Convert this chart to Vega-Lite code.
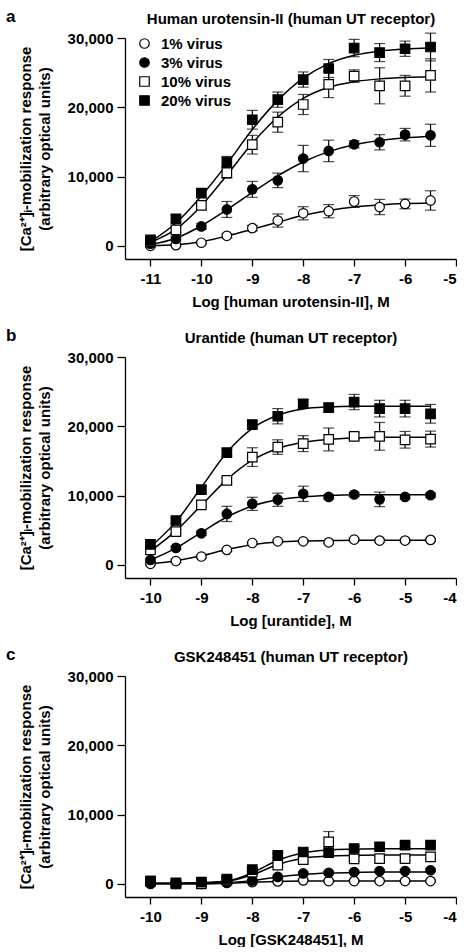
{
"$schema": "https://vega.github.io/schema/vega-lite/v6.json",
"padding": {"left": 6, "top": 8, "right": 0, "bottom": 0},
"spacing": 18,
"config": {
  "font": "Liberation Sans",
  "view": {"stroke": null},
  "axis": {"labelFont": "Liberation Sans", "labelFontSize": 15, "labelFontWeight": "bold", "labelColor": "black", "titleFont": "Liberation Sans", "titleFontSize": 15, "titleFontWeight": "bold", "titleColor": "black", "domainColor": "black", "domainWidth": 1.3, "tickColor": "black", "tickWidth": 1.3, "tickSize": 7, "grid": false},
  "legend": {"title": null, "labelFont": "Liberation Sans", "labelFontSize": 15, "labelFontWeight": "bold", "labelColor": "black", "rowPadding": 3, "labelOffset": 9, "symbolStrokeColor": "black", "symbolStrokeWidth": 1.2, "padding": 0},
  "title": {"font": "Liberation Sans", "fontSize": 17, "fontWeight": "bold", "color": "black"}
},
"datasets": {
"a": [
{"s":"1% virus","x":-11,"y":0,"e":150,"f":0},
{"s":"1% virus","x":-10.5,"y":100,"e":150,"f":150},
{"s":"1% virus","x":-10,"y":450,"e":200,"f":600},
{"s":"1% virus","x":-9.5,"y":1450,"e":300,"f":1400},
{"s":"1% virus","x":-9,"y":2550,"e":400,"f":2400},
{"s":"1% virus","x":-8.5,"y":3650,"e":950,"f":3400},
{"s":"1% virus","x":-8,"y":4700,"e":950,"f":4400},
{"s":"1% virus","x":-7.5,"y":5000,"e":950,"f":5100},
{"s":"1% virus","x":-7,"y":6400,"e":850,"f":5600},
{"s":"1% virus","x":-6.5,"y":5600,"e":1100,"f":5900},
{"s":"1% virus","x":-6,"y":6050,"e":700,"f":6100},
{"s":"1% virus","x":-5.5,"y":6550,"e":1400,"f":6200},
{"s":"3% virus","x":-11,"y":300,"e":200,"f":200},
{"s":"3% virus","x":-10.5,"y":1000,"e":300,"f":1100},
{"s":"3% virus","x":-10,"y":2800,"e":400,"f":2900},
{"s":"3% virus","x":-9.5,"y":5250,"e":1150,"f":5200},
{"s":"3% virus","x":-9,"y":8150,"e":1150,"f":7700},
{"s":"3% virus","x":-8.5,"y":9450,"e":1050,"f":10100},
{"s":"3% virus","x":-8,"y":12600,"e":1900,"f":12100},
{"s":"3% virus","x":-7.5,"y":13700,"e":1550,"f":13600},
{"s":"3% virus","x":-7,"y":14650,"e":500,"f":14600},
{"s":"3% virus","x":-6.5,"y":14950,"e":1100,"f":15200},
{"s":"3% virus","x":-6,"y":16050,"e":900,"f":15600},
{"s":"3% virus","x":-5.5,"y":15950,"e":1600,"f":15800},
{"s":"10% virus","x":-11,"y":700,"e":300,"f":500},
{"s":"10% virus","x":-10.5,"y":2300,"e":400,"f":2400},
{"s":"10% virus","x":-10,"y":5850,"e":500,"f":5800},
{"s":"10% virus","x":-9.5,"y":10550,"e":800,"f":10200},
{"s":"10% virus","x":-9,"y":14600,"e":1350,"f":14800},
{"s":"10% virus","x":-8.5,"y":17850,"e":1450,"f":18600},
{"s":"10% virus","x":-8,"y":20400,"e":1450,"f":21300},
{"s":"10% virus","x":-7.5,"y":23300,"e":1900,"f":22900},
{"s":"10% virus","x":-7,"y":24500,"e":900,"f":23700},
{"s":"10% virus","x":-6.5,"y":23100,"e":2600,"f":24100},
{"s":"10% virus","x":-6,"y":23100,"e":1500,"f":24300},
{"s":"10% virus","x":-5.5,"y":24600,"e":2400,"f":24400},
{"s":"20% virus","x":-11,"y":850,"e":300,"f":600},
{"s":"20% virus","x":-10.5,"y":3900,"e":500,"f":3300},
{"s":"20% virus","x":-10,"y":7600,"e":600,"f":7200},
{"s":"20% virus","x":-9.5,"y":12100,"e":800,"f":11800},
{"s":"20% virus","x":-9,"y":18200,"e":1350,"f":16800},
{"s":"20% virus","x":-8.5,"y":21100,"e":1100,"f":21000},
{"s":"20% virus","x":-8,"y":24000,"e":1100,"f":24200},
{"s":"20% virus","x":-7.5,"y":25600,"e":1300,"f":26300},
{"s":"20% virus","x":-7,"y":28550,"e":1250,"f":27500},
{"s":"20% virus","x":-6.5,"y":27900,"e":1300,"f":28100},
{"s":"20% virus","x":-6,"y":28450,"e":1100,"f":28400},
{"s":"20% virus","x":-5.5,"y":28700,"e":2000,"f":28600}
],
"b": [
{"s":"1% virus","x":-10,"y":150,"e":150,"f":150},
{"s":"1% virus","x":-9.5,"y":550,"e":200,"f":600},
{"s":"1% virus","x":-9,"y":1200,"e":200,"f":1300},
{"s":"1% virus","x":-8.5,"y":2150,"e":200,"f":2200},
{"s":"1% virus","x":-8,"y":3150,"e":200,"f":2900},
{"s":"1% virus","x":-7.5,"y":3400,"e":200,"f":3300},
{"s":"1% virus","x":-7,"y":3400,"e":200,"f":3450},
{"s":"1% virus","x":-6.5,"y":3250,"e":200,"f":3500},
{"s":"1% virus","x":-6,"y":3650,"e":200,"f":3550},
{"s":"1% virus","x":-5.5,"y":3500,"e":200,"f":3550},
{"s":"1% virus","x":-5,"y":3500,"e":200,"f":3550},
{"s":"1% virus","x":-4.5,"y":3600,"e":200,"f":3550},
{"s":"3% virus","x":-10,"y":700,"e":200,"f":700},
{"s":"3% virus","x":-9.5,"y":2450,"e":200,"f":2400},
{"s":"3% virus","x":-9,"y":4550,"e":300,"f":4700},
{"s":"3% virus","x":-8.5,"y":7350,"e":1100,"f":6900},
{"s":"3% virus","x":-8,"y":8800,"e":950,"f":8500},
{"s":"3% virus","x":-7.5,"y":9400,"e":950,"f":9400},
{"s":"3% virus","x":-7,"y":10250,"e":1100,"f":9800},
{"s":"3% virus","x":-6.5,"y":9800,"e":300,"f":10000},
{"s":"3% virus","x":-6,"y":10150,"e":300,"f":10100},
{"s":"3% virus","x":-5.5,"y":9450,"e":1050,"f":10100},
{"s":"3% virus","x":-5,"y":9800,"e":300,"f":10100},
{"s":"3% virus","x":-4.5,"y":10050,"e":300,"f":10100},
{"s":"10% virus","x":-10,"y":2150,"e":300,"f":2000},
{"s":"10% virus","x":-9.5,"y":4800,"e":300,"f":4900},
{"s":"10% virus","x":-9,"y":8650,"e":400,"f":8600},
{"s":"10% virus","x":-8.5,"y":12200,"e":400,"f":12300},
{"s":"10% virus","x":-8,"y":15550,"e":1350,"f":15100},
{"s":"10% virus","x":-7.5,"y":17000,"e":1050,"f":16800},
{"s":"10% virus","x":-7,"y":17500,"e":1150,"f":17700},
{"s":"10% virus","x":-6.5,"y":18100,"e":1650,"f":18100},
{"s":"10% virus","x":-6,"y":18550,"e":500,"f":18300},
{"s":"10% virus","x":-5.5,"y":18550,"e":2000,"f":18400},
{"s":"10% virus","x":-5,"y":18050,"e":1200,"f":18400},
{"s":"10% virus","x":-4.5,"y":18150,"e":1150,"f":18400},
{"s":"20% virus","x":-10,"y":2950,"e":300,"f":2600},
{"s":"20% virus","x":-9.5,"y":6400,"e":400,"f":6200},
{"s":"20% virus","x":-9,"y":10850,"e":500,"f":11200},
{"s":"20% virus","x":-8.5,"y":16200,"e":500,"f":16200},
{"s":"20% virus","x":-8,"y":20250,"e":500,"f":19700},
{"s":"20% virus","x":-7.5,"y":21450,"e":1100,"f":21600},
{"s":"20% virus","x":-7,"y":23250,"e":600,"f":22500},
{"s":"20% virus","x":-6.5,"y":22700,"e":600,"f":22800},
{"s":"20% virus","x":-6,"y":23500,"e":1100,"f":22900},
{"s":"20% virus","x":-5.5,"y":22550,"e":1200,"f":22900},
{"s":"20% virus","x":-5,"y":22550,"e":1200,"f":22900},
{"s":"20% virus","x":-4.5,"y":21800,"e":1350,"f":22900}
],
"c": [
{"s":"1% virus","x":-10,"y":0,"e":150,"f":0},
{"s":"1% virus","x":-9.5,"y":0,"e":150,"f":0},
{"s":"1% virus","x":-9,"y":0,"e":150,"f":0},
{"s":"1% virus","x":-8.5,"y":150,"e":150,"f":100},
{"s":"1% virus","x":-8,"y":250,"e":150,"f":230},
{"s":"1% virus","x":-7.5,"y":350,"e":150,"f":350},
{"s":"1% virus","x":-7,"y":500,"e":150,"f":400},
{"s":"1% virus","x":-6.5,"y":400,"e":150,"f":420},
{"s":"1% virus","x":-6,"y":400,"e":150,"f":420},
{"s":"1% virus","x":-5.5,"y":400,"e":150,"f":420},
{"s":"1% virus","x":-5,"y":400,"e":150,"f":420},
{"s":"1% virus","x":-4.5,"y":400,"e":150,"f":420},
{"s":"3% virus","x":-10,"y":0,"e":200,"f":0},
{"s":"3% virus","x":-9.5,"y":0,"e":200,"f":0},
{"s":"3% virus","x":-9,"y":0,"e":200,"f":50},
{"s":"3% virus","x":-8.5,"y":150,"e":200,"f":150},
{"s":"3% virus","x":-8,"y":450,"e":200,"f":500},
{"s":"3% virus","x":-7.5,"y":1000,"e":200,"f":1000},
{"s":"3% virus","x":-7,"y":1500,"e":200,"f":1350},
{"s":"3% virus","x":-6.5,"y":1600,"e":200,"f":1550},
{"s":"3% virus","x":-6,"y":1700,"e":200,"f":1650},
{"s":"3% virus","x":-5.5,"y":1850,"e":200,"f":1700},
{"s":"3% virus","x":-5,"y":1850,"e":200,"f":1700},
{"s":"3% virus","x":-4.5,"y":1950,"e":200,"f":1700},
{"s":"10% virus","x":-10,"y":400,"e":300,"f":100},
{"s":"10% virus","x":-9.5,"y":0,"e":300,"f":100},
{"s":"10% virus","x":-9,"y":0,"e":300,"f":150},
{"s":"10% virus","x":-8.5,"y":550,"e":300,"f":350},
{"s":"10% virus","x":-8,"y":1700,"e":300,"f":1300},
{"s":"10% virus","x":-7.5,"y":2700,"e":300,"f":2800},
{"s":"10% virus","x":-7,"y":3500,"e":300,"f":3700},
{"s":"10% virus","x":-6.5,"y":6050,"e":1500,"f":4000},
{"s":"10% virus","x":-6,"y":3600,"e":300,"f":4100},
{"s":"10% virus","x":-5.5,"y":3650,"e":300,"f":4150},
{"s":"10% virus","x":-5,"y":3650,"e":300,"f":4150},
{"s":"10% virus","x":-4.5,"y":3900,"e":300,"f":4150},
{"s":"20% virus","x":-10,"y":400,"e":300,"f":100},
{"s":"20% virus","x":-9.5,"y":150,"e":300,"f":100},
{"s":"20% virus","x":-9,"y":250,"e":300,"f":150},
{"s":"20% virus","x":-8.5,"y":700,"e":300,"f":400},
{"s":"20% virus","x":-8,"y":2050,"e":300,"f":1600},
{"s":"20% virus","x":-7.5,"y":4100,"e":300,"f":3400},
{"s":"20% virus","x":-7,"y":4600,"e":300,"f":4500},
{"s":"20% virus","x":-6.5,"y":4500,"e":300,"f":4900},
{"s":"20% virus","x":-6,"y":5100,"e":300,"f":5000},
{"s":"20% virus","x":-5.5,"y":5350,"e":300,"f":5050},
{"s":"20% virus","x":-5,"y":5600,"e":300,"f":5050},
{"s":"20% virus","x":-4.5,"y":5600,"e":300,"f":5050}
]
},
"vconcat": [
{
  "width": 331, "height": 221,
  "title": {"text": "a", "anchor": "start", "frame": "bounds", "dx": -12, "offset": -15},
  "data": {"name": "a"},
  "resolve": {"axis": {"x": "independent"}},
  "layer": [
    {"mark": {"type": "errorbar", "ticks": {"size": 11, "thickness": 1.2, "color": "black"}, "rule": {"strokeWidth": 1.2, "color": "black"}},
     "encoding": {"x": {"field": "x", "type": "quantitative", "axis": null, "scale": {"domain": [-11.5, -5], "nice": false, "zero": false}},
                  "y": {"field": "y", "type": "quantitative", "scale": {"domain": [-1900, 30000], "nice": false, "zero": false}, "axis": {"values": [0, 10000, 20000, 30000], "labelExpr": "format(datum.value, ',')", "labelPadding": 4, "tickSize": 8, "titlePadding": 15, "titleLineHeight": 19, "title": ["[Ca²⁺]ᵢ-mobilization response", "(arbitrary optical units)"]}}, "yError": {"field": "e"}}},
    {"mark": {"type": "line", "interpolate": "monotone", "color": "black", "strokeWidth": 1.5},
     "encoding": {"x": {"field": "x", "type": "quantitative", "axis": {"orient": "top", "domain": false, "ticks": false, "labels": false, "title": "Human urotensin-II (human UT receptor)", "titlePadding": 12}},
                  "y": {"field": "f", "type": "quantitative", "axis": {"values": [0, 10000, 20000, 30000], "labelExpr": "format(datum.value, ',')", "labelPadding": 4, "tickSize": 8, "titlePadding": 15, "titleLineHeight": 19, "title": ["[Ca²⁺]ᵢ-mobilization response", "(arbitrary optical units)"]}}, "detail": {"field": "s"}}},
    {"mark": {"type": "point", "filled": true, "stroke": "black", "strokeWidth": 1.2, "opacity": 1},
     "encoding": {"x": {"field": "x", "type": "quantitative", "axis": {"values": [-11, -10, -9, -8, -7, -6, -5], "labelExpr": "datum.value + ''", "labelPadding": 5, "titlePadding": 8, "title": "Log [human urotensin-II], M"}},
                  "y": {"field": "y", "type": "quantitative", "axis": {"values": [0, 10000, 20000, 30000], "labelExpr": "format(datum.value, ',')", "labelPadding": 4, "tickSize": 8, "titlePadding": 15, "titleLineHeight": 19, "title": ["[Ca²⁺]ᵢ-mobilization response", "(arbitrary optical units)"]}},
                  "shape": {"field": "s", "type": "nominal", "scale": {"domain": ["1% virus", "3% virus", "10% virus", "20% virus"], "range": ["circle", "circle", "square", "square"]}, "legend": {"orient": "none", "legendX": 12, "legendY": -2}},
                  "fill": {"field": "s", "type": "nominal", "scale": {"domain": ["1% virus", "3% virus", "10% virus", "20% virus"], "range": ["white", "black", "white", "black"]}},
                  "stroke": {"field": "s", "type": "nominal", "scale": {"domain": ["1% virus", "3% virus", "10% virus", "20% virus"], "range": ["black", "black", "black", "black"]}},
                  "size": {"field": "s", "type": "nominal", "scale": {"domain": ["1% virus", "3% virus", "10% virus", "20% virus"], "range": [90, 90, 121, 121]}}}}
  ]
},
{
  "width": 331, "height": 221,
  "title": {"text": "b", "anchor": "start", "frame": "bounds", "dx": -12, "offset": -15},
  "data": {"name": "b"},
  "resolve": {"axis": {"x": "independent"}},
  "layer": [
    {"mark": {"type": "errorbar", "ticks": {"size": 11, "thickness": 1.2, "color": "black"}, "rule": {"strokeWidth": 1.2, "color": "black"}},
     "encoding": {"x": {"field": "x", "type": "quantitative", "axis": null, "scale": {"domain": [-10.5, -4], "nice": false, "zero": false}},
                  "y": {"field": "y", "type": "quantitative", "scale": {"domain": [-1900, 30000], "nice": false, "zero": false}, "axis": {"values": [0, 10000, 20000, 30000], "labelExpr": "format(datum.value, ',')", "labelPadding": 4, "tickSize": 8, "titlePadding": 15, "titleLineHeight": 19, "title": ["[Ca²⁺]ᵢ-mobilization response", "(arbitrary optical units)"]}}, "yError": {"field": "e"}}},
    {"mark": {"type": "line", "interpolate": "monotone", "color": "black", "strokeWidth": 1.5},
     "encoding": {"x": {"field": "x", "type": "quantitative", "axis": {"orient": "top", "domain": false, "ticks": false, "labels": false, "title": "Urantide (human UT receptor)", "titlePadding": 12}},
                  "y": {"field": "f", "type": "quantitative", "axis": {"values": [0, 10000, 20000, 30000], "labelExpr": "format(datum.value, ',')", "labelPadding": 4, "tickSize": 8, "titlePadding": 15, "titleLineHeight": 19, "title": ["[Ca²⁺]ᵢ-mobilization response", "(arbitrary optical units)"]}}, "detail": {"field": "s"}}},
    {"mark": {"type": "point", "filled": true, "stroke": "black", "strokeWidth": 1.2, "opacity": 1},
     "encoding": {"x": {"field": "x", "type": "quantitative", "axis": {"values": [-10, -9, -8, -7, -6, -5, -4], "labelExpr": "datum.value + ''", "labelPadding": 5, "titlePadding": 8, "title": "Log [urantide], M"}},
                  "y": {"field": "y", "type": "quantitative", "axis": {"values": [0, 10000, 20000, 30000], "labelExpr": "format(datum.value, ',')", "labelPadding": 4, "tickSize": 8, "titlePadding": 15, "titleLineHeight": 19, "title": ["[Ca²⁺]ᵢ-mobilization response", "(arbitrary optical units)"]}},
                  "shape": {"field": "s", "type": "nominal", "scale": {"domain": ["1% virus", "3% virus", "10% virus", "20% virus"], "range": ["circle", "circle", "square", "square"]}, "legend": {"orient": "none", "legendX": 12, "legendY": -2}},
                  "fill": {"field": "s", "type": "nominal", "scale": {"domain": ["1% virus", "3% virus", "10% virus", "20% virus"], "range": ["white", "black", "white", "black"]}},
                  "stroke": {"field": "s", "type": "nominal", "scale": {"domain": ["1% virus", "3% virus", "10% virus", "20% virus"], "range": ["black", "black", "black", "black"]}},
                  "size": {"field": "s", "type": "nominal", "scale": {"domain": ["1% virus", "3% virus", "10% virus", "20% virus"], "range": [90, 90, 121, 121]}}}}
  ]
},
{
  "width": 331, "height": 221,
  "title": {"text": "c", "anchor": "start", "frame": "bounds", "dx": -12, "offset": -15},
  "data": {"name": "c"},
  "resolve": {"axis": {"x": "independent"}},
  "layer": [
    {"mark": {"type": "errorbar", "ticks": {"size": 11, "thickness": 1.2, "color": "black"}, "rule": {"strokeWidth": 1.2, "color": "black"}},
     "encoding": {"x": {"field": "x", "type": "quantitative", "axis": null, "scale": {"domain": [-10.5, -4], "nice": false, "zero": false}},
                  "y": {"field": "y", "type": "quantitative", "scale": {"domain": [-1900, 30000], "nice": false, "zero": false}, "axis": {"values": [0, 10000, 20000, 30000], "labelExpr": "format(datum.value, ',')", "labelPadding": 4, "tickSize": 8, "titlePadding": 15, "titleLineHeight": 19, "title": ["[Ca²⁺]ᵢ-mobilization response", "(arbitrary optical units)"]}}, "yError": {"field": "e"}}},
    {"mark": {"type": "line", "interpolate": "monotone", "color": "black", "strokeWidth": 1.5},
     "encoding": {"x": {"field": "x", "type": "quantitative", "axis": {"orient": "top", "domain": false, "ticks": false, "labels": false, "title": "GSK248451 (human UT receptor)", "titlePadding": 12}},
                  "y": {"field": "f", "type": "quantitative", "axis": {"values": [0, 10000, 20000, 30000], "labelExpr": "format(datum.value, ',')", "labelPadding": 4, "tickSize": 8, "titlePadding": 15, "titleLineHeight": 19, "title": ["[Ca²⁺]ᵢ-mobilization response", "(arbitrary optical units)"]}}, "detail": {"field": "s"}}},
    {"mark": {"type": "point", "filled": true, "stroke": "black", "strokeWidth": 1.2, "opacity": 1},
     "encoding": {"x": {"field": "x", "type": "quantitative", "axis": {"values": [-10, -9, -8, -7, -6, -5, -4], "labelExpr": "datum.value + ''", "labelPadding": 5, "titlePadding": 8, "title": "Log [GSK248451], M"}},
                  "y": {"field": "y", "type": "quantitative", "axis": {"values": [0, 10000, 20000, 30000], "labelExpr": "format(datum.value, ',')", "labelPadding": 4, "tickSize": 8, "titlePadding": 15, "titleLineHeight": 19, "title": ["[Ca²⁺]ᵢ-mobilization response", "(arbitrary optical units)"]}},
                  "shape": {"field": "s", "type": "nominal", "scale": {"domain": ["1% virus", "3% virus", "10% virus", "20% virus"], "range": ["circle", "circle", "square", "square"]}, "legend": {"orient": "none", "legendX": 12, "legendY": -2}},
                  "fill": {"field": "s", "type": "nominal", "scale": {"domain": ["1% virus", "3% virus", "10% virus", "20% virus"], "range": ["white", "black", "white", "black"]}},
                  "stroke": {"field": "s", "type": "nominal", "scale": {"domain": ["1% virus", "3% virus", "10% virus", "20% virus"], "range": ["black", "black", "black", "black"]}},
                  "size": {"field": "s", "type": "nominal", "scale": {"domain": ["1% virus", "3% virus", "10% virus", "20% virus"], "range": [90, 90, 121, 121]}}}}
  ]
}
]
}
